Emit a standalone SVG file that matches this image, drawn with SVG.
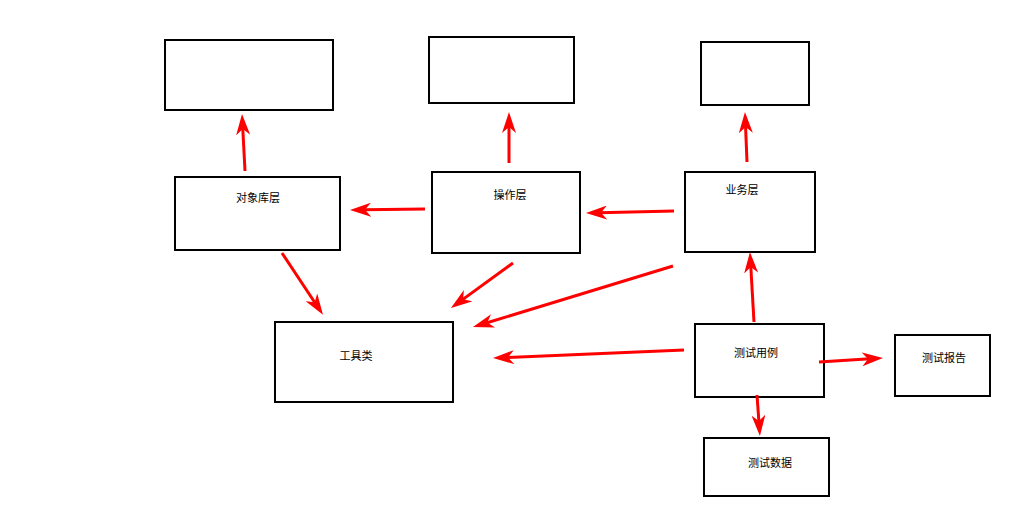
<svg xmlns="http://www.w3.org/2000/svg" width="1031" height="529" viewBox="0 0 1031 529">
  <style>
    .box { fill: #ffffff; stroke: #000000; stroke-width: 2; }
    .label { font-family: "Liberation Sans", "Noto Sans CJK SC", sans-serif; font-size: 11px; fill: #000000; text-anchor: middle; }
    .link { stroke: #ff0000; stroke-width: 3; fill: none; marker-end: url(#head); }
  </style>
  <defs>
    <marker id="head" markerUnits="userSpaceOnUse" markerWidth="22" markerHeight="14" refX="8" refY="7" orient="auto">
      <path d="M0,0 L21,7 L0,14 L6,7 Z" fill="#ff0000"/>
    </marker>
  </defs>
  <rect width="1031" height="529" fill="#ffffff"/>

  <g id="node-top-left"><rect class="box" x="165" y="40" width="168" height="70"/></g>
  <g id="node-top-middle"><rect class="box" x="429" y="37" width="145" height="66"/></g>
  <g id="node-top-right"><rect class="box" x="701" y="42" width="108" height="63"/></g>

  <g id="node-object-library">
    <rect class="box" x="175" y="177" width="165" height="73"/>
    <text class="label" x="258" y="202">对象库层</text>
  </g>
  <g id="node-operation">
    <rect class="box" x="432" y="172" width="148" height="81"/>
    <text class="label" x="510" y="199">操作层</text>
  </g>
  <g id="node-business">
    <rect class="box" x="685" y="172" width="130" height="80"/>
    <text class="label" x="742" y="194">业务层</text>
  </g>
  <g id="node-tools">
    <rect class="box" x="275" y="322" width="178" height="80"/>
    <text class="label" x="356" y="360">工具类</text>
  </g>
  <g id="node-test-case">
    <rect class="box" x="695" y="324" width="129" height="73"/>
    <text class="label" x="756" y="357">测试用例</text>
  </g>
  <g id="node-test-report">
    <rect class="box" x="895" y="335" width="95" height="61"/>
    <text class="label" x="944" y="362">测试报告</text>
  </g>
  <g id="node-test-data">
    <rect class="box" x="704" y="438" width="125" height="58"/>
    <text class="label" x="770" y="467">测试数据</text>
  </g>

  <g id="connectors">
    <line class="link" x1="245" y1="171" x2="242.7" y2="127"/>
    <line class="link" x1="509" y1="163" x2="509" y2="125"/>
    <line class="link" x1="747" y1="162" x2="745.5" y2="125"/>
    <line class="link" x1="425" y1="209" x2="363" y2="209.8"/>
    <line class="link" x1="674" y1="211" x2="599" y2="212.7"/>
    <line class="link" x1="282" y1="253" x2="315.8" y2="304"/>
    <line class="link" x1="513" y1="263" x2="461.5" y2="300.4"/>
    <line class="link" x1="673" y1="266" x2="485.4" y2="323.2"/>
    <line class="link" x1="684" y1="350" x2="506" y2="357.5"/>
    <line class="link" x1="754" y1="322" x2="750.7" y2="265"/>
    <line class="link" x1="819" y1="362" x2="870" y2="358.8"/>
    <line class="link" x1="757" y1="395" x2="759" y2="423"/>
  </g>
</svg>
